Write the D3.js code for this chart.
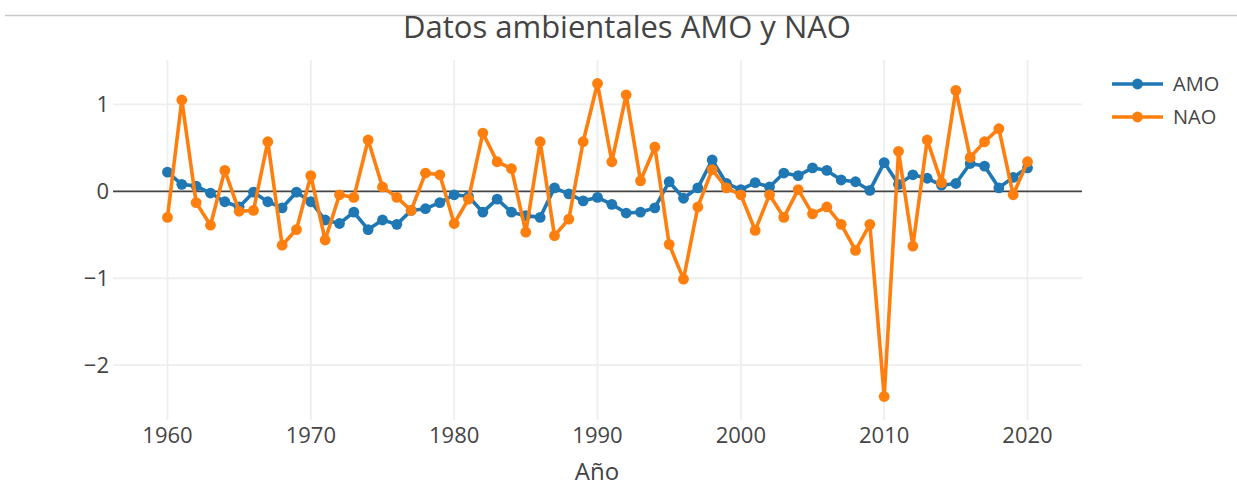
<!DOCTYPE html>
<html>
<head>
<meta charset="utf-8">
<script src="https://cdn.jsdelivr.net/npm/d3@7"></script>
<style>
  html, body { margin: 0; padding: 0; background: #fff; }
  svg text { font-family: "Open Sans", verdana, arial, sans-serif; fill: #444; }
</style>
</head>
<body>
<svg id="canvas" width="1237" height="486"></svg>
<script>
// ---------- data ----------
const years = d3.range(1960, 2021);

const amo = [
  0.22, 0.08, 0.06, -0.02, -0.12, -0.18, -0.01, -0.12, -0.19, -0.01,
  -0.12, -0.33, -0.37, -0.24, -0.44, -0.33, -0.38, -0.22, -0.20, -0.13,
  -0.04, -0.06, -0.24, -0.09, -0.24, -0.28, -0.30, 0.04, -0.03, -0.11,
  -0.07, -0.15, -0.25, -0.24, -0.19, 0.11, -0.08, 0.04, 0.36, 0.09,
  0.02, 0.10, 0.05, 0.21, 0.18, 0.27, 0.24, 0.13, 0.11, 0.01,
  0.33, 0.08, 0.19, 0.15, 0.07, 0.09, 0.32, 0.29, 0.04, 0.16,
  0.27
];

const nao = [
  -0.30, 1.05, -0.13, -0.39, 0.24, -0.23, -0.22, 0.57, -0.62, -0.44,
  0.18, -0.56, -0.04, -0.07, 0.59, 0.05, -0.07, -0.22, 0.21, 0.19,
  -0.37, -0.09, 0.67, 0.34, 0.26, -0.47, 0.57, -0.51, -0.32, 0.57,
  1.24, 0.34, 1.11, 0.12, 0.51, -0.61, -1.01, -0.18, 0.25, 0.04,
  -0.04, -0.45, -0.04, -0.30, 0.02, -0.26, -0.18, -0.38, -0.68, -0.38,
  -2.36, 0.46, -0.63, 0.59, 0.10, 1.16, 0.39, 0.57, 0.72, -0.04,
  0.34
];

const seriesNames = ["AMO", "NAO"];
const seriesColors = ["#1f77b4", "#ff7f0e"];
const xTicks = [1960, 1970, 1980, 1990, 2000, 2010, 2020];
const yTicks = [-2, -1, 0, 1];

const title = "Datos ambientales AMO y NAO";
const xTitle = "Año";

// ---------- layout ----------
const svg = d3.select("#canvas");
const plot = { left: 113, right: 1082, top: 60, bottom: 420 };

const x = d3.scaleLinear().domain([1956.2, 2023.8]).range([plot.left, plot.right]);
const y = d3.scaleLinear().domain([-2.63, 1.51]).range([plot.bottom, plot.top]);

// top border line of the screenshot
svg.append("line")
  .attr("x1", 5).attr("x2", 1237).attr("y1", 15.5).attr("y2", 15.5)
  .attr("stroke", "#c8c8c8").attr("stroke-width", 1.5);

// grid
const grid = svg.append("g");
grid.selectAll(".vg").data(xTicks).join("line")
  .attr("x1", d => x(d)).attr("x2", d => x(d))
  .attr("y1", plot.top).attr("y2", plot.bottom)
  .attr("stroke", "#eee").attr("stroke-width", 1.8);
grid.selectAll(".hg").data(yTicks.filter(d => d !== 0)).join("line")
  .attr("x1", plot.left).attr("x2", plot.right)
  .attr("y1", d => y(d)).attr("y2", d => y(d))
  .attr("stroke", "#eee").attr("stroke-width", 1.8);

// zero line
svg.append("line")
  .attr("x1", plot.left).attr("x2", plot.right)
  .attr("y1", y(0)).attr("y2", y(0))
  .attr("stroke", "#444").attr("stroke-width", 1.8);

// axes labels
svg.append("g").selectAll("text").data(xTicks).join("text")
  .attr("x", d => x(d)).attr("y", 443)
  .attr("text-anchor", "middle")
  .style("font-size", "22px")
  .text(d => d);

svg.append("g").selectAll("text").data(yTicks).join("text")
  .attr("x", 109).attr("y", d => y(d))
  .attr("dy", "0.36em")
  .attr("text-anchor", "end")
  .style("font-size", "22px")
  .text(d => d < 0 ? "\u2212" + Math.abs(d) : d);

// series
const line = d3.line().x((d, i) => x(years[i])).y(d => y(d));
[amo, nao].forEach((vals, k) => {
  const g = svg.append("g");
  g.append("path")
    .datum(vals)
    .attr("d", line)
    .attr("fill", "none")
    .attr("stroke", seriesColors[k])
    .attr("stroke-width", 3.6)
    .attr("stroke-linejoin", "round");
  g.selectAll("circle").data(vals).join("circle")
    .attr("cx", (d, i) => x(years[i]))
    .attr("cy", d => y(d))
    .attr("r", 5.4)
    .attr("fill", seriesColors[k]);
});

// legend
const legend = svg.append("g");
seriesNames.forEach((name, k) => {
  const ly = 84 + k * 33;
  legend.append("line")
    .attr("x1", 1112).attr("x2", 1163).attr("y1", ly).attr("y2", ly)
    .attr("stroke", seriesColors[k]).attr("stroke-width", 3.6);
  legend.append("circle")
    .attr("cx", 1137.5).attr("cy", ly).attr("r", 5.4)
    .attr("fill", seriesColors[k]);
  legend.append("text")
    .attr("x", 1173).attr("y", ly).attr("dy", "0.36em")
    .style("font-size", "20px")
    .text(name);
});

// titles
svg.append("text")
  .attr("x", 627).attr("y", 38)
  .attr("text-anchor", "middle")
  .style("font-size", "31px")
  .text(title);

svg.append("text")
  .attr("x", 597).attr("y", 480)
  .attr("text-anchor", "middle")
  .style("font-size", "24px")
  .text(xTitle);
</script>
</body>
</html>
